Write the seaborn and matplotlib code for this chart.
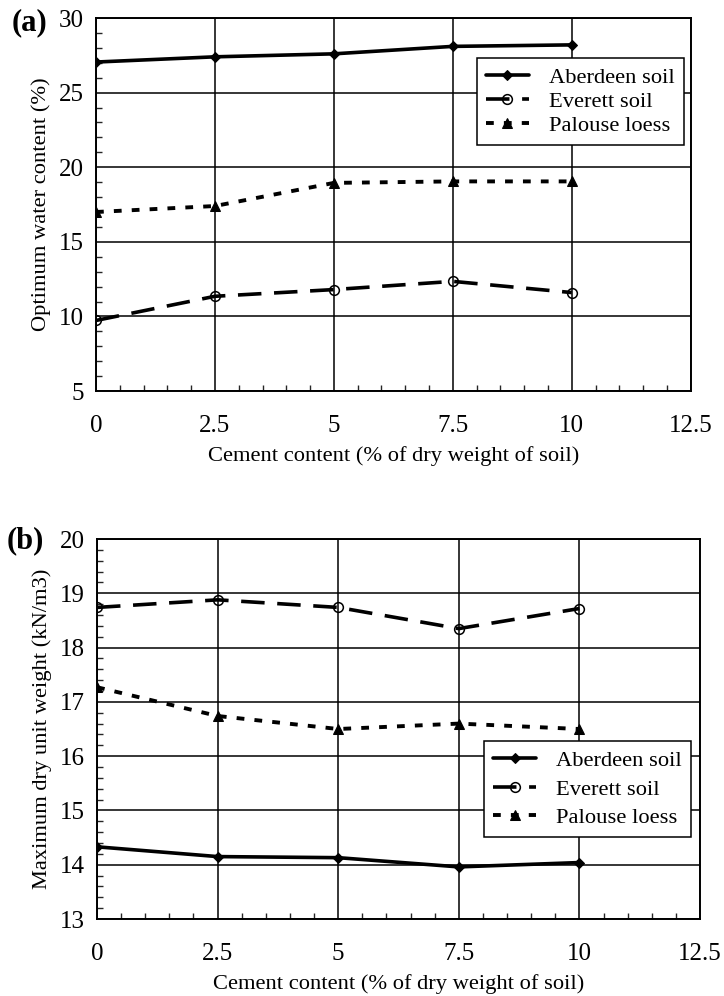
import matplotlib
matplotlib.use("Agg")
import matplotlib.pyplot as plt
import seaborn as sns
import pandas as pd
from matplotlib.ticker import MultipleLocator

sns.set_theme(style="white")
plt.rcParams['font.family'] = ['Liberation Serif', 'DejaVu Serif']

cement = [0, 2.5, 5, 7.5, 10]
series_names = ["Aberdeen soil", "Everett soil", "Palouse loess"]

# (a) Optimum water content (%)
omc_aberdeen = [27.05, 27.4, 27.6, 28.1, 28.2]
omc_everett = [9.73, 11.35, 11.8, 12.35, 11.6]
omc_palouse = [17.0, 17.4, 18.95, 19.05, 19.05]

# (b) Maximum dry unit weight (kN/m3)
mdu_aberdeen = [14.33, 14.15, 14.13, 13.96, 14.04]
mdu_everett = [18.74, 18.88, 18.74, 18.35, 18.72]
mdu_palouse = [17.27, 16.74, 16.5, 16.6, 16.5]

x_ticks = [0, 2.5, 5, 7.5, 10, 12.5]
x_tick_labels = ["0", "2.5", "5", "7.5", "10", "12.5"]
a_ticks = [5, 10, 15, 20, 25, 30]
b_ticks = [13, 14, 15, 16, 17, 18, 19, 20]

styles = {
    "Aberdeen soil": dict(linestyle='-', marker='D', markersize=5, lw=2.6,
                          markerfacecolor='black', markeredgecolor='black'),
    "Everett soil": dict(linestyle=(0, (6.5, 3.5)), marker='o', markersize=7, lw=2.6,
                         markerfacecolor='none', markeredgecolor='black', markeredgewidth=1.1),
    "Palouse loess": dict(linestyle=(0, (2.0, 2.6)), marker='^', markersize=7, lw=2.8,
                          markerfacecolor='black', markeredgecolor='black'),
}

fig = plt.figure(figsize=(7.24, 9.96), dpi=100)
ax_a = fig.add_axes([0.1326, 0.6074, 0.8214, 0.3745])
ax_b = fig.add_axes([0.1340, 0.0773, 0.8329, 0.3815])

TFS = 18
LFS = 16.2


def draw(ax, data, ylim, yticks, yminor, ylabel):
    for name, vals in zip(series_names, data):
        df = pd.DataFrame({"x": cement, "y": vals})
        sns.lineplot(data=df, x="x", y="y", ax=ax, color='black', label=name,
                     **styles[name])
    ax.set_xlim(0, 12.5)
    ax.set_ylim(*ylim)
    ax.set_xticks(x_ticks)
    ax.set_xticklabels(x_tick_labels)
    ax.set_yticks(yticks)
    ax.set_yticklabels([str(t) for t in yticks])
    ax.xaxis.set_minor_locator(MultipleLocator(0.5))
    ax.yaxis.set_minor_locator(MultipleLocator(yminor))
    ax.tick_params(axis='both', which='major', direction='inout', length=7, width=1.2,
                   labelsize=TFS, colors='black', pad=5)
    ax.tick_params(axis='both', which='minor', direction='in', length=4, width=1.0,
                   bottom=True, left=True)
    ax.tick_params(axis='x', which='major', pad=14)
    ax.grid(True, which='major', color='black', lw=1.1)
    for sp in ax.spines.values():
        sp.set_color('black')
        sp.set_linewidth(1.4)
    ax.set_xlabel("Cement content (% of dry weight of soil)", fontsize=LFS, color='black',
                  labelpad=6)
    ax.set_ylabel(ylabel, fontsize=LFS, color='black', labelpad=6)


draw(ax_a, [omc_aberdeen, omc_everett, omc_palouse], (5, 30), a_ticks, 1,
     "Optimum water content (%)")
draw(ax_b, [mdu_aberdeen, mdu_everett, mdu_palouse], (13, 20), b_ticks, 0.2,
     "Maximum dry unit weight (kN/m3)")

for ax, anchor, spacing in [(ax_a, (0.988, 0.893), 0.15), (ax_b, (0.985, 0.468), 0.35)]:
    leg = ax.legend(loc='upper right', bbox_to_anchor=anchor, fontsize=LFS,
                    frameon=True, fancybox=False, edgecolor='black', framealpha=1,
                    handlelength=1.9, handletextpad=0.9, borderpad=0.4,
                    labelspacing=spacing, borderaxespad=0)
    leg.get_frame().set_linewidth(1.1)
    for t in leg.get_texts():
        t.set_color('black')

fig.text(0.016, 0.970, "(a)", fontsize=22, fontweight='bold', color='black')
fig.text(0.009, 0.450, "(b)", fontsize=22, fontweight='bold', color='black')

fig.savefig("out.png", dpi=100, facecolor='white')
